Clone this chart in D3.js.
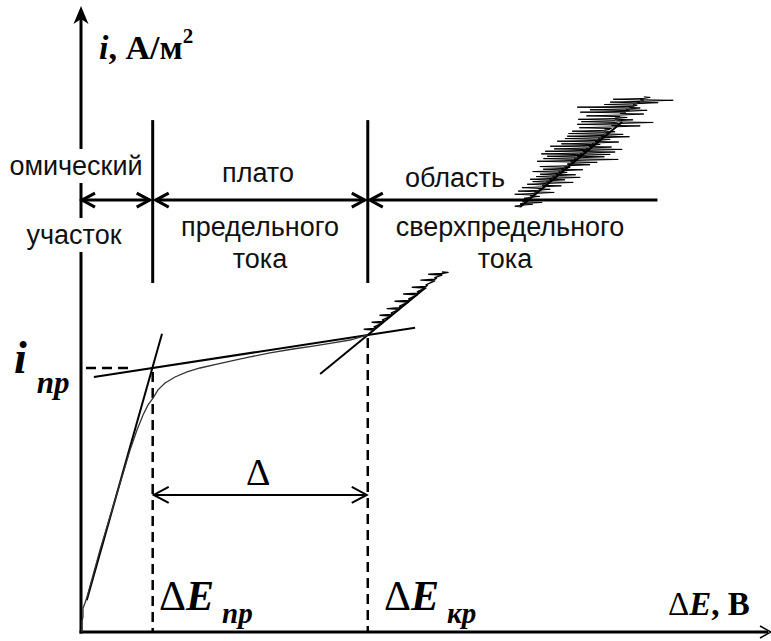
<!DOCTYPE html>
<html>
<head>
<meta charset="utf-8">
<script src="https://cdn.jsdelivr.net/npm/d3@7/dist/d3.min.js"></script>
<style>
  html, body { margin: 0; padding: 0; background: #fff; }
  svg { display: block; }
</style>
</head>
<body>
<svg id="chart" width="771" height="641"></svg>
<script>
// Current–voltage curve of an ion-exchange membrane: ohmic region,
// limiting-current plateau and overlimiting region.
// ΔE is expressed in units of ΔE_пр, i in units of i_пр.

const limitE = 1.0;      // ΔE_пр
const criticalE = 4.0;   // ΔE_кр
const limitI = 1.0;      // i_пр
const criticalI = 1.125; // current at ΔE_кр
const eMax = 9.61;
const iMax = 2.356;

// measured curve: ohmic part bending into the plateau
const ivcPoints = [
  [0.014, 0.000], [0.014, 0.040], [0.028, 0.057], [0.028, 0.090],
  [0.056, 0.110], [0.084, 0.133], [0.265, 0.311], [0.474, 0.500],
  [0.684, 0.689], [0.781, 0.765], [0.865, 0.822], [0.935, 0.860],
  [1.005, 0.886], [1.074, 0.917], [1.172, 0.943], [1.312, 0.966],
  [1.479, 0.985], [1.660, 1.000], [1.898, 1.015], [2.149, 1.030],
  [2.358, 1.042], [2.637, 1.057], [2.958, 1.072], [3.237, 1.083],
  [3.516, 1.095], [3.753, 1.106], [4.000, 1.125]
];

// oscillations just above ΔE_кр: [i, E left, E on trend, E right]
const overlimitNoise = [
  [1.144, 3.95, 4.087, 4.12], [1.170, 4.06, 4.205, 4.22],
  [1.197, 4.17, 4.328, 4.34], [1.222, 4.27, 4.442, 4.46],
  [1.250, 4.38, 4.569, 4.59], [1.277, 4.50, 4.692, 4.71],
  [1.303, 4.62, 4.811, 4.83], [1.330, 4.74, 4.934, 4.96],
  [1.352, 4.85, 5.034, 5.12]
];

// strongly oscillating overlimiting current: [i, E left, E on trend, E right]
const insetNoise = [
  [1.610, 6.050, 6.125, 6.300], [1.617, 6.125, 6.156, 6.432],
  [1.640, 6.180, 6.260, 6.400], [1.655, 6.050, 6.320, 6.600],
  [1.667, 6.097, 6.377, 6.544], [1.680, 6.150, 6.430, 6.700],
  [1.693, 6.223, 6.492, 6.865], [1.703, 6.300, 6.530, 6.750],
  [1.712, 6.265, 6.576, 6.963], [1.722, 6.350, 6.620, 6.900],
  [1.731, 6.404, 6.660, 6.781], [1.741, 6.300, 6.700, 7.000],
  [1.750, 6.446, 6.744, 6.823], [1.760, 6.400, 6.790, 7.100],
  [1.769, 6.781, 6.828, 7.200], [1.780, 6.362, 6.876, 7.493],
  [1.790, 6.450, 6.920, 7.300], [1.799, 6.502, 6.960, 7.381],
  [1.808, 6.420, 7.000, 7.450], [1.818, 6.474, 7.044, 7.548],
  [1.827, 6.600, 7.090, 7.400], [1.837, 6.544, 7.128, 7.242],
  [1.846, 6.700, 7.170, 7.500], [1.856, 6.642, 7.212, 7.381],
  [1.866, 6.750, 7.250, 7.650], [1.875, 6.781, 7.296, 7.562],
  [1.885, 6.800, 7.300, 7.450], [1.894, 6.851, 7.300, 7.381],
  [1.907, 6.950, 7.400, 7.800], [1.920, 6.921, 7.495, 7.981],
  [1.930, 6.980, 7.450, 7.700], [1.939, 6.935, 7.450, 7.618],
  [1.952, 7.050, 7.520, 7.850], [1.966, 6.963, 7.600, 7.897],
  [1.975, 7.100, 7.650, 7.800], [1.985, 6.921, 7.700, 7.758],
  [1.995, 7.300, 7.750, 8.050], [2.004, 7.381, 7.800, 8.260],
  [2.015, 7.423, 7.850, 7.939]
];
const insetTrend = [[6.125, 1.610], [7.548, 1.932]];

// tangents used to find i_пр, ΔE_пр and ΔE_кр
const ohmicTangent = [[0.08, 0.12], [1.13, 1.13]];
const plateauTangent = [[0.18, 0.966], [4.66, 1.1525]];
const overlimitTangent = [[3.335, 0.977], [4.80, 1.303]];

// region bands
const regionBounds = [0, limitE, criticalE, 8.04];
const bandI = 1.636;              // level of the region arrows
const separatorI = [1.322, 1.939];
const plateauArrowI = 0.519;

const regionLabels = [
  { text: "омический", x: 76, y: 175, knockout: true },
  { text: "участок", x: 74, y: 244, knockout: true },
  { text: "плато", x: 258, y: 182 },
  { text: "предельного", x: 260, y: 236 },
  { text: "тока", x: 260, y: 268 },
  { text: "область", x: 455, y: 187 },
  { text: "сверхпредельного", x: 510, y: 236 },
  { text: "тока", x: 505, y: 268 }
];

const svg = d3.select("#chart");
const x = d3.scaleLinear().domain([0, eMax]).range([81, 770]);
const y = d3.scaleLinear().domain([0, iMax]).range([632, 10]);
const line = d3.line().x(d => x(d[0])).y(d => y(d[1]));

const SERIF = "'Liberation Serif', 'Times New Roman', serif";
const SANS = "'Liberation Sans', Arial, sans-serif";

// chevron arrow head; dir = +1 points right, -1 points left
function chevron(g, tx, ty, dir, len, half, w) {
  g.append("path")
    .attr("d", `M${tx - dir * len},${ty - half} L${tx},${ty} L${tx - dir * len},${ty + half}`)
    .attr("fill", "none").attr("stroke", "#000")
    .attr("stroke-width", w).attr("stroke-linejoin", "miter");
}

// oscillating trace: small excursions left and right of the trend at each level
function noiseTrace(levels, start) {
  const pts = start ? [start] : [];
  levels.forEach(([i, l, c, r]) => {
    pts.push([c, i], [l, i + 0.003], [c, i + 0.006], [r, i + 0.010], [c, i + 0.012]);
  });
  return pts;
}

// axes
const axes = svg.append("g");
axes.append("line")
  .attr("x1", x(0)).attr("y1", y(0) + 1.5).attr("x2", x(0)).attr("y2", 14)
  .attr("stroke", "#000").attr("stroke-width", 3);
axes.append("path")
  .attr("d", `M${x(0)},6 L${x(0) - 7.5},24 L${x(0)},19 L${x(0) + 7.5},24 Z`)
  .attr("fill", "#000");
axes.append("line")
  .attr("x1", x(0) - 1.5).attr("y1", y(0)).attr("x2", 768).attr("y2", y(0))
  .attr("stroke", "#000").attr("stroke-width", 3);
axes.append("path")
  .attr("d", `M760,${y(0) - 6} L771,${y(0)} L760,${y(0) + 6}`)
  .attr("fill", "none").attr("stroke", "#000").attr("stroke-width", 1.5);

// region separators and arrows
const bands = svg.append("g");
[limitE, criticalE].forEach(e => {
  bands.append("line")
    .attr("x1", x(e)).attr("x2", x(e))
    .attr("y1", y(separatorI[0])).attr("y2", y(separatorI[1]))
    .attr("stroke", "#000").attr("stroke-width", 3);
});
const by = y(bandI);
// ohmic
bands.append("line").attr("x1", x(regionBounds[0]) + 1).attr("x2", x(regionBounds[1]) - 3)
  .attr("y1", by).attr("y2", by).attr("stroke", "#000").attr("stroke-width", 3);
chevron(bands, x(regionBounds[0]) + 1, by, -1, 13, 7, 3);
chevron(bands, x(regionBounds[1]) - 3, by, 1, 13, 7, 3);
// plateau
bands.append("line").attr("x1", x(regionBounds[1]) + 3).attr("x2", x(regionBounds[2]) - 3)
  .attr("y1", by).attr("y2", by).attr("stroke", "#000").attr("stroke-width", 3);
chevron(bands, x(regionBounds[1]) + 3, by, -1, 13, 7, 3);
chevron(bands, x(regionBounds[2]) - 3, by, 1, 13, 7, 3);
// overlimiting
bands.append("line").attr("x1", x(regionBounds[2]) + 2).attr("x2", x(regionBounds[3]))
  .attr("y1", by).attr("y2", by).attr("stroke", "#000").attr("stroke-width", 3);
chevron(bands, x(regionBounds[2]) + 2, by, -1, 13, 7, 3);

// region labels
const labels = svg.append("g");
regionLabels.forEach(l => {
  const t = labels.append("text")
    .attr("x", l.x).attr("y", l.y)
    .attr("text-anchor", "middle")
    .attr("font-family", SANS).attr("font-size", 27)
    .attr("fill", "#111")
    .text(l.text);
  if (l.knockout) {
    const b = t.node().getBBox();
    labels.insert("rect", () => t.node())
      .attr("x", b.x - 2).attr("y", b.y - 2)
      .attr("width", b.width + 4).attr("height", b.height + 4)
      .attr("fill", "#fff");
  }
});

// dashed guides to i_пр, ΔE_пр and ΔE_кр
const guides = svg.append("g")
  .attr("stroke", "#000").attr("stroke-width", 2.5)
  .attr("stroke-dasharray", "10,6").attr("fill", "none");
guides.append("line")
  .attr("x1", x(0) + 5).attr("x2", 130)
  .attr("y1", y(limitI)).attr("y2", y(limitI));
guides.append("line")
  .attr("x1", x(limitE)).attr("x2", x(limitE))
  .attr("y1", y(limitI) + 4).attr("y2", y(0));
guides.append("line")
  .attr("x1", x(criticalE)).attr("x2", x(criticalE))
  .attr("y1", y(criticalI) + 3).attr("y2", y(0));

// tangents
const tangents = svg.append("g")
  .attr("stroke", "#000").attr("stroke-width", 2).attr("fill", "none");
[ohmicTangent, plateauTangent, overlimitTangent, insetTrend].forEach(t => {
  tangents.append("path").attr("d", line(t));
});

// measured curve
svg.append("path").attr("d", line(ivcPoints))
  .attr("fill", "none").attr("stroke", "#333").attr("stroke-width", 1.3);
svg.append("path").attr("d", line(noiseTrace(overlimitNoise, [criticalE, criticalI])))
  .attr("fill", "none").attr("stroke", "#000").attr("stroke-width", 1.4)
  .attr("stroke-linejoin", "round");
svg.append("path").attr("d", line(noiseTrace(insetNoise)))
  .attr("fill", "none").attr("stroke", "#000").attr("stroke-width", 1.0)
  .attr("stroke-linejoin", "round");

// plateau width arrow Δ
const ay = y(plateauArrowI);
const delta = svg.append("g");
delta.append("line").attr("x1", x(limitE) + 1).attr("x2", x(criticalE) - 1)
  .attr("y1", ay).attr("y2", ay).attr("stroke", "#000").attr("stroke-width", 2);
chevron(delta, x(limitE) + 1, ay, -1, 15, 8, 2);
chevron(delta, x(criticalE) - 1, ay, 1, 15, 8, 2);
delta.append("text")
  .attr("x", (x(limitE) + x(criticalE)) / 2 - 2).attr("y", 485)
  .attr("text-anchor", "middle")
  .attr("font-family", SERIF).attr("font-size", 38)
  .text("Δ");

// axis titles and point labels
const iTitle = svg.append("text").attr("x", 99).attr("y", 59)
  .attr("font-family", SERIF).attr("font-weight", "bold").attr("font-size", 34);
iTitle.append("tspan").attr("font-style", "italic").text("i");
iTitle.append("tspan").text(", А/м");
iTitle.append("tspan").attr("font-size", 21).attr("dy", -16).text("2");

const eTitle = svg.append("text").attr("x", 668).attr("y", 615)
  .attr("font-family", SERIF).attr("font-size", 33);
eTitle.append("tspan").text("Δ");
eTitle.append("tspan").attr("font-weight", "bold").attr("font-style", "italic").text("E");
eTitle.append("tspan").attr("font-weight", "bold").text(", В");

function deltaE(xPos, sub) {
  const t = svg.append("text").attr("x", xPos).attr("y", 610)
    .attr("font-family", SERIF).attr("font-size", 42);
  t.append("tspan").text("Δ");
  t.append("tspan").attr("font-weight", "bold").attr("font-style", "italic").text("E");
  t.append("tspan").attr("font-weight", "bold").attr("font-style", "italic")
    .attr("font-size", 29).attr("dx", 8).attr("dy", 13).text(sub);
}
deltaE(159, "пр");
deltaE(384, "кр");

const iLim = svg.append("text").attr("x", 14).attr("y", 373)
  .attr("font-family", SERIF).attr("font-weight", "bold").attr("font-style", "italic")
  .attr("font-size", 46);
iLim.append("tspan").text("i");
iLim.append("tspan").attr("font-size", 31).attr("dx", 10).attr("dy", 20).text("пр");
</script>
</body>
</html>
